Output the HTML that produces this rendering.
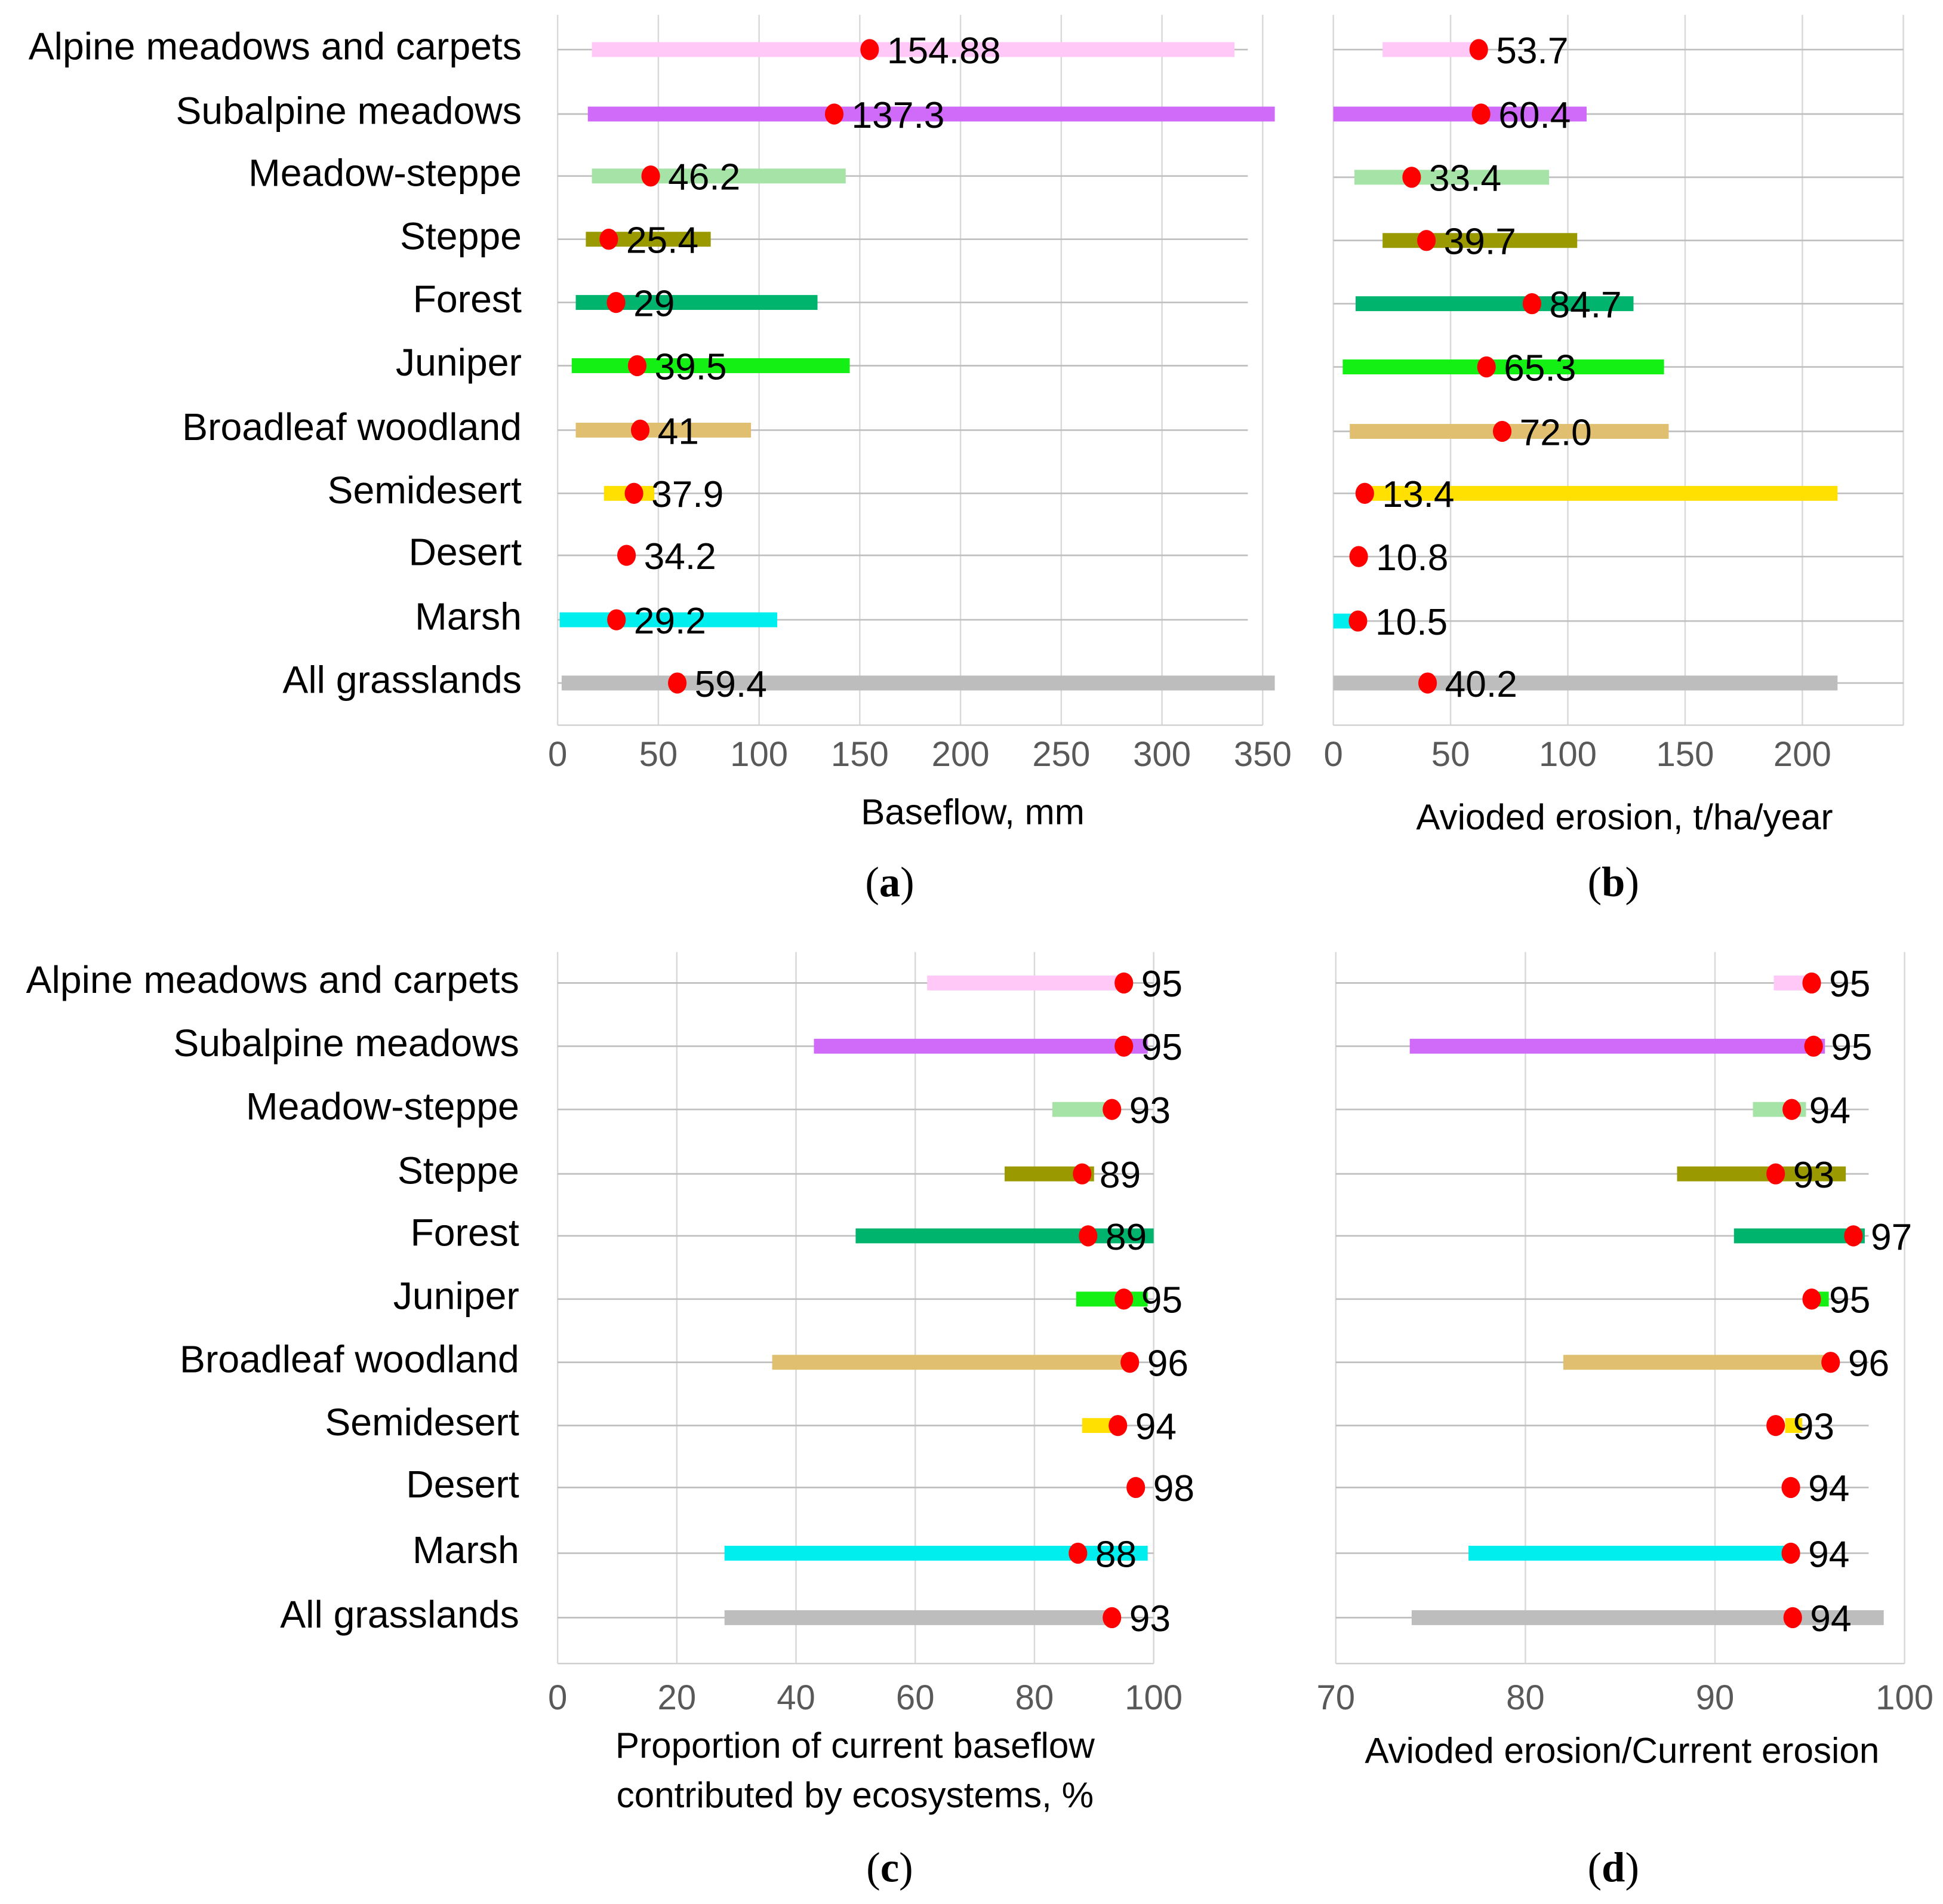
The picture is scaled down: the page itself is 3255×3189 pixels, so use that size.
<!DOCTYPE html>
<html><head><meta charset="utf-8">
<style>html,body{margin:0;padding:0;background:#fff}svg{display:block}</style>
</head><body>
<svg id="chart" width="3255" height="3189" viewBox="0 0 1568 1536" preserveAspectRatio="none" xmlns="http://www.w3.org/2000/svg" font-family="'Liberation Sans', sans-serif"></svg>
<script>
const categories = ["Alpine meadows and carpets","Subalpine meadows","Meadow-steppe","Steppe","Forest","Juniper","Broadleaf woodland","Semidesert","Desert","Marsh","All grasslands"];
const barColors = ["#ffc8f6","#cf6af9","#a6e3a6","#9a9a00","#00b46e","#14f014","#e0c070","#ffe000",null,"#00eeee","#bdbdbd"];

// Panel a: baseflow, mm
const aLow = [17,15,17,14,9,7,9,23,null,1,2];
const aHigh = [336,356,143,76,129,145,96,48,null,109,356];
const aPoint = [154.88,137.3,46.2,25.4,29,39.5,41,37.9,34.2,29.2,59.4];
const aLabels = ["154.88","137.3","46.2","25.4","29","39.5","41","37.9","34.2","29.2","59.4"];
const aTicks = [0,50,100,150,200,250,300,350];

// Panel b: avoided erosion, t/ha/year
const bLow = [21,0,9,21,9.5,4,7,13,null,0,0];
const bHigh = [60,108,92,104,128,141,143,215,null,12,215];
const bPoint = [62,63,33.4,39.7,84.7,65.3,72.0,13.4,10.8,10.5,40.2];
const bLabels = ["53.7","60.4","33.4","39.7","84.7","65.3","72.0","13.4","10.8","10.5","40.2"];
const bTicks = [0,50,100,150,200];

// Panel c: proportion of baseflow, %
const cLow = [62,43,83,75,50,87,36,88,null,28,28];
const cHigh = [95,99,94,90,100,99,96,94,null,99,93];
const cPoint = [95,95,93,88,89,95,96,94,97,87.3,93];
const cLabels = ["95","95","93","89","89","95","96","94","98","88","93"];
const cTicks = [0,20,40,60,80,100];

// Panel d: avoided erosion / current erosion
const dLow = [93.1,73.9,92,88,91,95,82,93.7,null,77,74];
const dHigh = [95.1,95.8,94.8,96.9,97.9,96,96.1,94.6,null,93.7,98.9];
const dPoint = [95.1,95.2,94.05,93.2,97.3,95.1,96.1,93.2,94,94,94.1];
const dLabels = ["95","95","94","93","97","95","96","93","94","94","94"];
const dTicks = [70,80,90,100];

const NS="http://www.w3.org/2000/svg";
const svg=document.getElementById('chart');
function mk(tag,attrs,parent,text){const e=document.createElementNS(NS,tag);for(const k in attrs)e.setAttribute(k,attrs[k]);if(text!==undefined)e.textContent=text;(parent||svg).appendChild(e);return e;}

const panels=[
 {id:'a',x0:450,x1:1019,v0:0,v1:350,gridRight:1007,rows:[40,92,142,193,244,295,347,398,448,500,551],top:12,bottom:585,tickY:618,low:aLow,high:aHigh,pt:aPoint,lab:aLabels,ticks:aTicks,labelX:421,title:["Baseflow, mm"],titleX:785,titleY:665,letter:"(a)",letterX:718,extraRight:null},
 {id:'b',x0:1076,x1:1454.5,v0:0,v1:200,gridRight:1536,rows:[40,92,143,194,245,296,348,398,449,501,551],top:12,bottom:585,tickY:618,low:bLow,high:bHigh,pt:bPoint,lab:bLabels,ticks:bTicks,labelX:null,title:["Avioded erosion, t/ha/year"],titleX:1311,titleY:669,letter:"(b)",letterX:1302,extraRight:1536},
 {id:'c',x0:450,x1:931,v0:0,v1:100,gridRight:931,rows:[793,844,895,947,997,1048,1099,1150,1200,1253,1305],top:768,bottom:1342,tickY:1379,low:cLow,high:cHigh,pt:cPoint,lab:cLabels,ticks:cTicks,labelX:419,title:["Proportion of current baseflow","contributed by ecosystems, %"],titleX:690,titleY:1418,letter:"(c)",letterX:718,extraRight:null},
 {id:'d',x0:1078,x1:1537,v0:70,v1:100,gridRight:1508,rows:[793,844,895,947,997,1048,1099,1150,1200,1253,1305],top:768,bottom:1342,tickY:1379,low:dLow,high:dHigh,pt:dPoint,lab:dLabels,ticks:dTicks,labelX:null,title:["Avioded erosion/Current erosion"],titleX:1309,titleY:1422,letter:"(d)",letterX:1302,extraRight:null}
];

panels.forEach(p=>{
 const g=mk('g',{});  
 const sx=v=>p.x0+(v-p.v0)/(p.v1-p.v0)*(p.x1-p.x0);
 p.ticks.forEach(t=>{
  const l=mk('line',{x1:sx(t),x2:sx(t),y1:p.top,y2:p.bottom,stroke:'#d9d9d9','stroke-width':1.2},g);
   
  const tx=mk('text',{x:sx(t),y:p.tickY,'text-anchor':'middle','font-size':28,fill:'#595959'},g,String(t));
   
 });
 if(p.extraRight){const l=mk('line',{x1:p.extraRight,x2:p.extraRight,y1:p.top,y2:p.bottom,stroke:'#d9d9d9','stroke-width':1.2},g);
   }
 const bl=mk('line',{x1:p.x0,x2:Math.max(p.gridRight,p.x1),y1:p.bottom,y2:p.bottom,stroke:'#d0d0d0','stroke-width':1.2},g);
  
 categories.forEach((c,i)=>{
  const y=p.rows[i];
  const hl=mk('line',{x1:p.x0,x2:p.gridRight,y1:y,y2:y,stroke:'#bfbfbf','stroke-width':1.3},g);
   
  if(p.labelX){const t=mk('text',{x:p.labelX,y:y+8,'text-anchor':'end','font-size':31,fill:'#000'},g,c);
    }
  if(p.low[i]!==null){
   const x1=sx(p.low[i]),x2=sx(p.high[i]);
   const r=mk('rect',{x:x1,y:y-6,width:x2-x1,height:12,fill:barColors[i]},g);
    
  }
 });
 categories.forEach((c,i)=>{
  const y=p.rows[i], cx=sx(p.pt[i]);
  const d=mk('ellipse',{cx:cx,cy:y,rx:7.5,ry:8.5,fill:'#ff0000'},g);
   
  const t=mk('text',{x:cx+14,y:y+11,'font-size':30,fill:'#000'},g,p.lab[i]);
   
 });
 p.title.forEach((s,k)=>{
  const t=mk('text',{x:p.titleX,y:p.titleY+k*40,'text-anchor':'middle','font-size':29,fill:'#000'},g,s);
   
 });
 const lt=mk('text',{x:p.letterX,y:(p.id==='a'||p.id==='b')?723:1518,'text-anchor':'middle','font-size':34,'font-family':"'Liberation Serif', serif",fill:'#000'},g);
  
 mk('tspan',{},lt,'(');
 mk('tspan',{'font-weight':'bold'},lt,p.letter.slice(1,2));
 mk('tspan',{},lt,')');
});
</script>
</body></html>
